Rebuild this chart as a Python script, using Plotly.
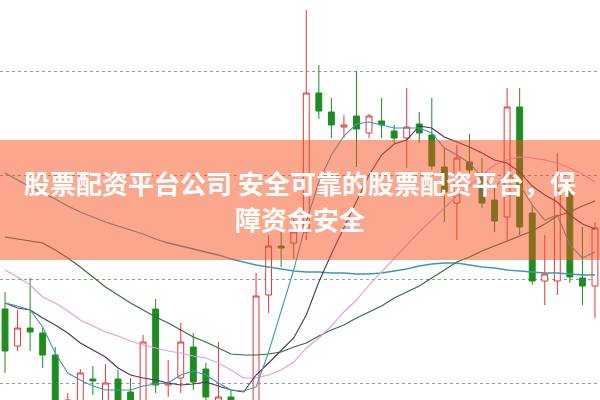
import plotly.graph_objects as go

# Candle data (price level units)
idx = list(range(48))
opens  = [91, 54, 72, 67, 45, -30, -20, 21, -10, 21, 8, -20, 91, 15, 22, 53, 31, -2, 3, -25,
          -20, 105, 154, 157, 168, 307, 288, 273, 284, 267, 279, 269, 262, 276, 265, 233, 197, 238,
          225, 200, 183, 293, 187, 119, 119, 210, 122, 114]
highs  = [108, 90, 122, 72, 53, 7, 31, 34, 36, 30, 22, 65, 101, 40, 77, 67, 37, 58, 10, -3,
          127, 165, 168, 185, 390, 335, 302, 285, 329, 286, 302, 275, 312, 288, 302, 252, 255, 266,
          242, 212, 312, 312, 195, 165, 247, 220, 173, 178]
lows   = [27, 49, 49, 32, -30, -40, -30, 5, -15, -15, -10, -25, 7, 3, 7, 10, -5, -10, -15, -35,
          -30, 87, 133, 141, 160, 281, 262, 262, 233, 262, 262, 257, 232, 257, 230, 178, 160, 225,
          192, 168, 160, 165, 115, 95, 105, 117, 95, 82]
closes = [49, 72, 68, 45, -20, 0, 27, 19, 17, -10, -5, 58, 15, 17, 58, 18, 3, 3, -10, -5,
          104, 154, 152, 168, 307, 289, 275, 275, 271, 284, 275, 262, 273, 267, 234, 208, 242, 230,
          197, 179, 293, 173, 119, 126, 210, 123, 114, 172]

# Moving averages (screen-read, expressed as distance from top -> converted below)
ma5_top = [303, 306, 310, 327, 353, 373, 380, 386, 390, 390, 390, 386, 384, 383, 375, 371, 375, 383, 390, 391,
           387, 352, 310, 270, 222, 182, 155, 136, 124, 122, 125, 128, 128, 128, 133, 148, 155, 163,
           177, 188, 173, 185, 205, 220, 215, 245, 258, 252]
ma10_top = [303, 308, 310, 318, 325, 333, 343, 350, 357, 368, 375, 378, 380, 383, 385, 384, 382, 386, 390, 392,
            375, 363, 350, 338, 315, 282, 254, 228, 201, 175, 155, 144, 140, 126, 128, 137, 142, 147,
            153, 160, 163, 172, 186, 195, 202, 215, 224, 229]
ma20_top = [270, 277, 285, 297, 303, 311, 320, 326, 332, 336, 341, 345, 348, 351, 353, 356, 358, 363, 370, 378,
            378, 375, 370, 362, 348, 338, 326, 312, 300, 285, 272, 258, 245, 232, 220, 208, 196, 186,
            175, 165, 160, 157, 158, 160, 163, 168, 174, 182]
ma30_top = [237, 239, 241, 243, 250, 258, 267, 277, 287, 295, 303, 310, 317, 323, 330, 337, 342, 348, 354, 355,
            355, 354, 352, 347, 343, 336, 330, 325, 318, 312, 306, 298, 292, 286, 278, 270, 262, 257,
            251, 246, 241, 236, 231, 224, 216, 212, 206, 201]
ma60_top = [173, 180, 187, 193, 199, 206, 212, 217, 222, 226, 230, 234, 239, 243, 246, 249, 252, 255, 259, 262,
            265, 267, 269, 271, 272, 272, 273, 273, 274, 274, 273, 271, 269, 266, 264, 263, 263, 265,
            267, 268, 270, 271, 272, 273, 273, 274, 275, 275]

grid_levels = [329, 225, 121, 17]

line1 = "股票配资平台公司 安全可靠的股票配资平台，保"
line2 = "障资金安全"

RED = "#E0383A"
GREEN = "#1F8C22"

def lvl(arr):
    return [400 - v for v in arr]

fig = go.Figure()

ma_specs = [
    (ma60_top, "#3D9BAA", 1.3),
    (ma30_top, "#2F6E34", 1.1),
    (ma20_top, "#E39BE3", 1.1),
    (ma10_top, "#4E3060", 1.1),
    (ma5_top, "#3E9AB5", 1.1),
]
for arr, col, w in ma_specs:
    fig.add_trace(go.Scatter(x=idx, y=lvl(arr), mode="lines",
                             line=dict(color=col, width=w), hoverinfo="skip",
                             showlegend=False))

fig.add_trace(go.Candlestick(
    x=idx, open=opens, high=highs, low=lows, close=closes,
    increasing=dict(line=dict(color=RED, width=1), fillcolor="white"),
    decreasing=dict(line=dict(color=GREEN, width=1), fillcolor=GREEN),
    whiskerwidth=0, showlegend=False, hoverinfo="skip"))

fig.update_layout(
    width=600, height=400,
    margin=dict(l=0, r=0, t=0, b=0),
    paper_bgcolor="white", plot_bgcolor="white",
    showlegend=False, boxgap=0.33,
    xaxis=dict(range=[-0.4, 47.4], visible=False, rangeslider=dict(visible=False),
               showgrid=False, zeroline=False),
    yaxis=dict(range=[0, 400], tickvals=grid_levels, showticklabels=False,
               showgrid=True, gridcolor="#9a9a9a", griddash="dot", gridwidth=1,
               zeroline=False, showline=False, ticks=""),
    shapes=[dict(type="rect", xref="paper", yref="paper", x0=0, x1=1,
                 y0=1 - 260 / 400, y1=1 - 140 / 400,
                 fillcolor="rgba(245,80,30,0.5)", line=dict(width=0), layer="above")],
)

font = dict(family="Noto Sans CJK SC", size=26, color="white", weight=700)
fig.add_annotation(x=0.5, y=1 - 182 / 400, xref="paper", yref="paper", text=line1,
                   showarrow=False, font=font, xanchor="center", yanchor="middle")
fig.add_annotation(x=0.5, y=1 - 218 / 400, xref="paper", yref="paper", text=line2,
                   showarrow=False, font=font, xanchor="center", yanchor="middle")

fig.write_html("out.html", config={"displayModeBar": False},
               post_script="document.body.style.margin='0';document.body.style.overflow='hidden';")
